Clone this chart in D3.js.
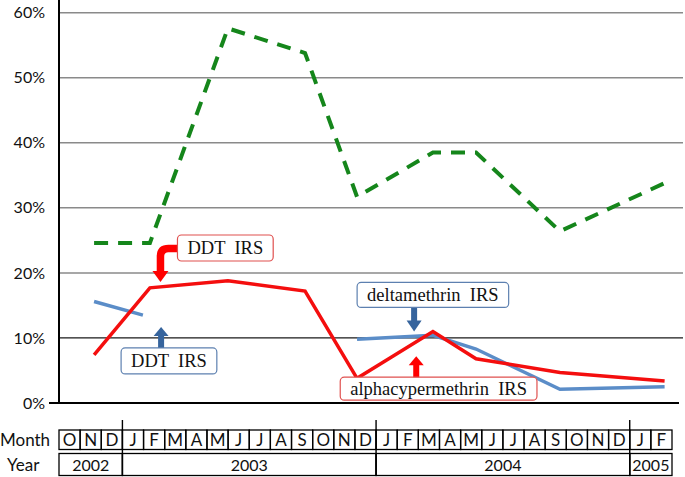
<!DOCTYPE html>
<html>
<head>
<meta charset="utf-8">
<script src="https://cdn.jsdelivr.net/npm/d3@7"></script>
<style>
  html, body { margin: 0; padding: 0; background: #fff; }
  svg { display: block; }
</style>
</head>
<body>
<svg id="chart" width="685" height="477"></svg>
<script>
// ---- data ----
const monthLabels = ["O","N","D","J","F","M","A","M","J","J","A","S","O","N","D","J","F","M","A","M","J","J","A","S","O","N","D","J","F"];
const yearLabels = ["2002","2003","2004","2005"];
const yearSpans = [3, 12, 12, 2];
const yTicks = [0, 10, 20, 30, 40, 50, 60];

// survey times, in months since start of Oct 2002
const surveyMonths = [1.66, 4.30, 7.99, 11.64, 14.10, 17.69, 19.73, 23.70, 28.65];
const greenValues  = [24.6, 24.6, 57.6, 53.8, 31.7, 38.5, 38.5, 26.4, 33.8];
const redValues    = [7.4, 17.7, 18.8, 17.2, 3.8, 11.0, 6.8, 4.7, 3.4];
const blueMonths   = [1.66, 3.97, 7.99, 14.10, 17.69, 19.73, 23.70, 28.65];
const blueValues   = [15.6, 13.5, null, 9.8, 10.4, 8.3, 2.1, 2.5];

// annotations: arrow tip in data units
const annotations = [
  { text: "DDT  IRS", color: "red", tipMonth: 4.8, tipValue: 18.6, kind: "bent" },
  { text: "DDT  IRS", color: "blue", tipMonth: 4.83, tipValue: 11.7, kind: "up" },
  { text: "deltamethrin  IRS", color: "blue", tipMonth: 16.8, tipValue: 11.0, kind: "down" },
  { text: "alphacypermethrin  IRS", color: "red", tipMonth: 16.9, tipValue: 7.2, kind: "up" }
];

// ---- drawing ----
const svg = d3.select("#chart");
const x = d3.scaleLinear().domain([0, 29]).range([59, 672]);
const y = d3.scaleLinear().domain([0, 60]).range([403, 12.7]);

const SANS = "Lato, 'Open Sans', sans-serif";
const SERIF = "'Liberation Serif', 'Times New Roman', serif";

// gridlines
svg.append("g").selectAll("line").data(yTicks.filter(d => d > 0)).join("line")
  .attr("x1", x(0)).attr("x2", 683)
  .attr("y1", d => y(d)).attr("y2", d => y(d))
  .attr("stroke", d => d === 10 ? "#1a1a1a" : "#8a8a8a")
  .attr("stroke-width", d => d === 10 ? 1.3 : 1.5);

// y axis
const yAxis = d3.axisLeft(y).tickValues(yTicks).tickFormat(d => d + "%").tickSize(0).tickPadding(14);
const ya = svg.append("g").attr("transform", `translate(${x(0)},0)`).call(yAxis);
ya.select(".domain").remove();
ya.selectAll("text").attr("font-family", SANS).attr("font-size", 16).attr("fill", "#111");

svg.append("line").attr("x1", x(0)).attr("x2", x(0)).attr("y1", 0).attr("y2", y(0))
  .attr("stroke", "#000").attr("stroke-width", 2);
svg.append("line").attr("x1", 49).attr("x2", 679).attr("y1", y(0)).attr("y2", y(0))
  .attr("stroke", "#000").attr("stroke-width", 2);

// series
const line = d3.line().defined(d => d[1] != null).x(d => x(d[0])).y(d => y(d[1]));
svg.append("path").datum(surveyMonths.map((m, i) => [m, greenValues[i]]))
  .attr("d", line).attr("fill", "none").attr("stroke", "#15861b")
  .attr("stroke-width", 4).attr("stroke-dasharray", "14 10");
svg.append("path").datum(blueMonths.map((m, i) => [m, blueValues[i]]))
  .attr("d", line).attr("fill", "none").attr("stroke", "#5b8dc8")
  .attr("stroke-width", 3.5);
svg.append("path").datum(surveyMonths.map((m, i) => [m, redValues[i]]))
  .attr("d", line).attr("fill", "none").attr("stroke", "#f40e0e")
  .attr("stroke-width", 3.5);

// annotations
const boxStroke = { red: "#e0504f", blue: "#5d80b0" };
const arrowFill = { red: "#ff0000", blue: "#36649d" };
annotations.forEach(a => {
  const tx = x(a.tipMonth), ty = y(a.tipValue);
  const g = svg.append("g");
  let bx, by, bw, bh;
  const tmp = g.append("text").attr("font-family", SERIF).attr("font-size", 18.5)
    .attr("xml:space", "preserve").style("white-space", "pre").text(a.text);
  const tw = tmp.node().getComputedTextLength();
  tmp.remove();
  if (a.kind === "bent") {
    bw = tw + 20; bh = 26;
    bx = tx + 17; by = ty - 47;
    const hy = by + 13.5;
    g.append("path")
      .attr("d", `M${bx + 1},${hy} H${tx + 8} Q${tx},${hy} ${tx},${hy + 8} V${ty - 10}`)
      .attr("fill", "none").attr("stroke", arrowFill[a.color]).attr("stroke-width", 7.5);
    g.append("path").attr("d", `M${tx - 8},${ty - 11} L${tx + 8},${ty - 11} L${tx},${ty} Z`)
      .attr("fill", arrowFill[a.color]);
  } else if (a.kind === "up") {
    bw = tw + 20; bh = a.text.length > 10 ? 23 : 26;
    bx = tx - (a.text.length > 10 ? 76 : 40); by = ty + 21;
    g.append("rect").attr("x", tx - 3).attr("y", ty + 8).attr("width", 6).attr("height", 14)
      .attr("fill", arrowFill[a.color]);
    g.append("path").attr("d", `M${tx - 7.5},${ty + 9} L${tx + 7.5},${ty + 9} L${tx},${ty} Z`)
      .attr("fill", arrowFill[a.color]);
  } else {
    bw = tw + 20; bh = 25;
    bx = tx - 57; by = ty - 49;
    g.append("rect").attr("x", tx - 3).attr("y", by + bh - 1).attr("width", 6).attr("height", 15)
      .attr("fill", arrowFill[a.color]);
    g.append("path").attr("d", `M${tx - 7.5},${ty - 11} L${tx + 7.5},${ty - 11} L${tx},${ty} Z`)
      .attr("fill", arrowFill[a.color]);
  }
  g.append("rect").attr("x", bx).attr("y", by).attr("width", bw).attr("height", bh)
    .attr("rx", 4).attr("fill", "#fff").attr("stroke", boxStroke[a.color]).attr("stroke-width", 1.2);
  g.append("text").attr("x", bx + bw / 2).attr("y", by + bh / 2 + 6)
    .attr("text-anchor", "middle").attr("font-family", SERIF).attr("font-size", 18.5)
    .attr("fill", "#111").attr("xml:space", "preserve").style("white-space", "pre").text(a.text);
});

// month / year table
const cellW = (x(29) - x(0)) / 29;
const mTop = 430, mH = 19.5, yTop = 453.5, yH = 22;
const tbl = svg.append("g");
tbl.selectAll("rect.m").data(monthLabels).join("rect").attr("class", "m")
  .attr("x", (d, i) => x(i)).attr("y", mTop).attr("width", cellW).attr("height", mH)
  .attr("fill", "none").attr("stroke", "#000").attr("stroke-width", 1.3);
tbl.selectAll("text.m").data(monthLabels).join("text").attr("class", "m")
  .attr("x", (d, i) => x(i + 0.5)).attr("y", mTop + 15.5)
  .attr("text-anchor", "middle").attr("font-family", SANS).attr("font-size", 17).attr("fill", "#111")
  .text(d => d);
const yearStarts = yearSpans.map((s, i) => d3.sum(yearSpans.slice(0, i)));
tbl.selectAll("rect.y").data(yearLabels).join("rect").attr("class", "y")
  .attr("x", (d, i) => x(yearStarts[i])).attr("y", yTop)
  .attr("width", (d, i) => x(yearStarts[i] + yearSpans[i]) - x(yearStarts[i])).attr("height", yH)
  .attr("fill", "none").attr("stroke", "#000").attr("stroke-width", 1.3);
tbl.selectAll("text.y").data(yearLabels).join("text").attr("class", "y")
  .attr("x", (d, i) => x(yearStarts[i] + yearSpans[i] / 2)).attr("y", yTop + 17.5)
  .attr("text-anchor", "middle").attr("font-family", SANS).attr("font-size", 16).attr("fill", "#111")
  .text(d => d);
tbl.selectAll("line.div").data(yearStarts.slice(1)).join("line").attr("class", "div")
  .attr("x1", d => x(d)).attr("x2", d => x(d)).attr("y1", 420).attr("y2", yTop + yH)
  .attr("stroke", "#000").attr("stroke-width", 1.4);
tbl.append("text").attr("x", 0).attr("y", mTop + 15.5).attr("font-family", SANS).attr("font-size", 17)
  .attr("fill", "#111").text("Month");
tbl.append("text").attr("x", 7).attr("y", yTop + 17.5).attr("font-family", SANS).attr("font-size", 17)
  .attr("fill", "#111").text("Year");
</script>
</body>
</html>
